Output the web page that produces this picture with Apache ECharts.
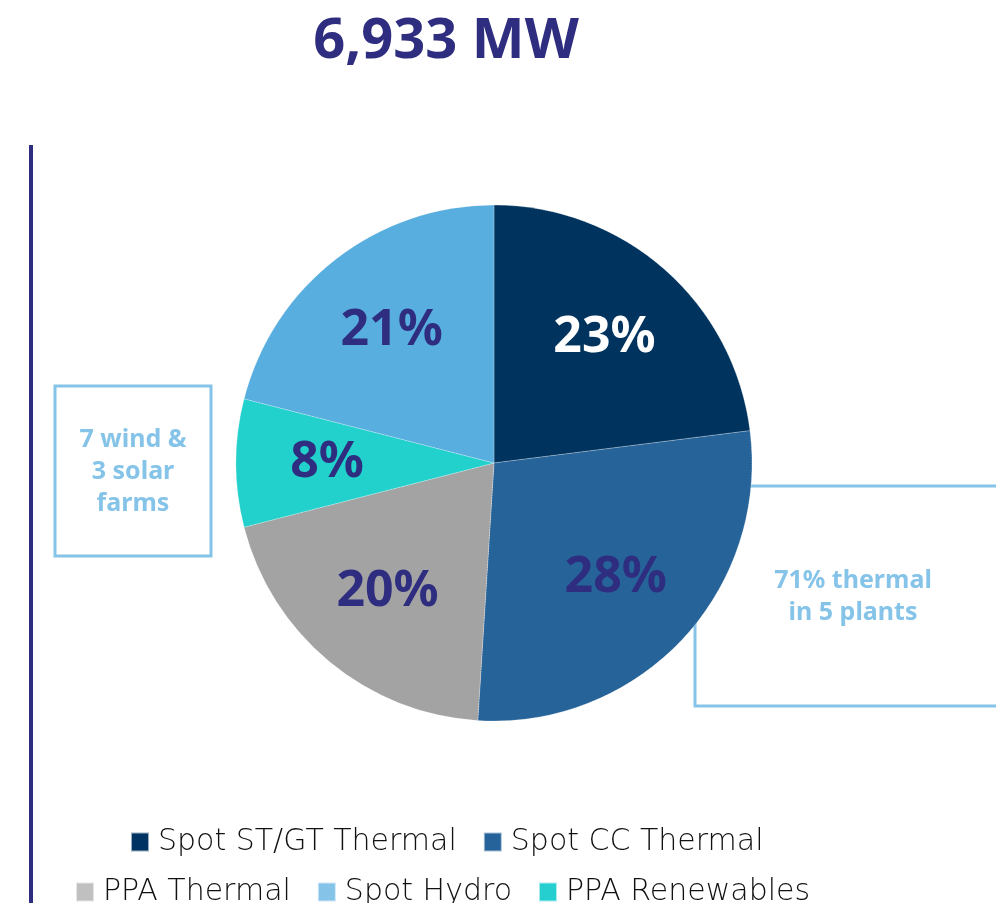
<!DOCTYPE html>
<html>
<head>
<meta charset="utf-8">
<script src="https://cdn.jsdelivr.net/npm/echarts@6/dist/echarts.min.js"></script>
<style>html,body{margin:0;padding:0;background:#fff}#c{width:996px;height:903px}</style>
</head>
<body>
<div id="c"></div>
<script>
const title = '6,933 MW';
const categories = ['Spot ST/GT Thermal', 'Spot CC Thermal', 'PPA Thermal', 'PPA Renewables', 'Spot Hydro'];
const shares = [23, 28, 20, 8, 21];
const sliceColors = ['#00345f', '#266399', '#a3a3a3', '#22d0cc', '#58aedf'];
const labelColors = ['#ffffff', '#2e2d7f', '#2e2d7f', '#2e2d7f', '#2e2d7f'];
const legendRow1 = ['Spot ST/GT Thermal', 'Spot CC Thermal'];
const legendRow2 = ['PPA Thermal', 'Spot Hydro', 'PPA Renewables'];
const legendColors = {
  'Spot ST/GT Thermal': '#003462', 'Spot CC Thermal': '#26639a',
  'PPA Thermal': '#c0c0c0', 'Spot Hydro': '#85c4e8', 'PPA Renewables': '#26cfcf'
};
const noteLeft = '7 wind &\n3 solar\nfarms';
const noteRight = '71% thermal\nin 5 plants';

const navy = '#2e2d7f';
const callout = '#85c4e8';
const center = [494, 463];

const chart = echarts.init(document.getElementById('c'));
const legendText = { fontFamily: 'DejaVu Sans', fontWeight: 200, fontSize: 30, color: '#111111', padding: [0, 0, 0, 4] };
function legendData(names) {
  return names.map(n => ({ name: n, itemStyle: { color: legendColors[n] } }));
}
chart.setOption({
  animation: false,
  title: {
    text: title, left: 441, top: 9, textAlign: 'center',
    textStyle: { fontFamily: 'Noto Sans', fontWeight: 'bold', fontSize: 56, color: navy }
  },
  legend: [
    { data: legendData(legendRow1), left: 130, top: 827, padding: 0, itemWidth: 18, itemHeight: 19, itemGap: 26, icon: 'rect', selectedMode: false, textStyle: legendText },
    { data: legendData(legendRow2), left: 75, top: 877, padding: 0, itemWidth: 18, itemHeight: 19, itemGap: 26, icon: 'rect', selectedMode: false, textStyle: legendText }
  ],
  graphic: [
    { type: 'line', z: 0, shape: { x1: 31, y1: 145, x2: 31, y2: 903 }, style: { stroke: navy, lineWidth: 4 } },
    { type: 'rect', z: 0, shape: { x: 55, y: 386, width: 156, height: 170 }, style: { fill: 'none', stroke: callout, lineWidth: 3 } },
    { type: 'rect', z: 0, shape: { x: 695, y: 486, width: 320, height: 220 }, style: { fill: 'none', stroke: callout, lineWidth: 3 } },
    { type: 'text', z: 1, x: 133, y: 424, style: { text: noteLeft, align: 'center', verticalAlign: 'top', fill: callout, font: 'bold 25px "Noto Sans"', lineHeight: 32 } },
    { type: 'text', z: 1, x: 853, y: 565, style: { text: noteRight, align: 'center', verticalAlign: 'top', fill: callout, font: 'bold 25px "Noto Sans"', lineHeight: 32 } }
  ],
  series: [
    {
      type: 'pie', center: center, radius: [0, 258], startAngle: 90, clockwise: true,
      silent: true, z: 2,
      label: { show: false }, labelLine: { show: false },
      itemStyle: { borderColor: 'rgba(255,255,255,0.6)', borderWidth: 0.8, borderType: 'dotted' },
      data: categories.map((n, i) => ({ name: n, value: shares[i], itemStyle: { color: sliceColors[i] } }))
    },
    {
      type: 'pie', center: center, radius: [70, 258], startAngle: 90, clockwise: true,
      silent: true, z: 3, legendHoverLink: false,
      itemStyle: { color: 'rgba(0,0,0,0)', borderWidth: 0 },
      labelLine: { show: false },
      label: {
        show: true, position: 'inside', formatter: '{c}%',
        fontFamily: 'Noto Sans', fontWeight: 'bold', fontSize: 50
      },
      data: categories.map((n, i) => ({ name: n, value: shares[i], label: { color: labelColors[i] } }))
    }
  ]
});
</script>
</body>
</html>
